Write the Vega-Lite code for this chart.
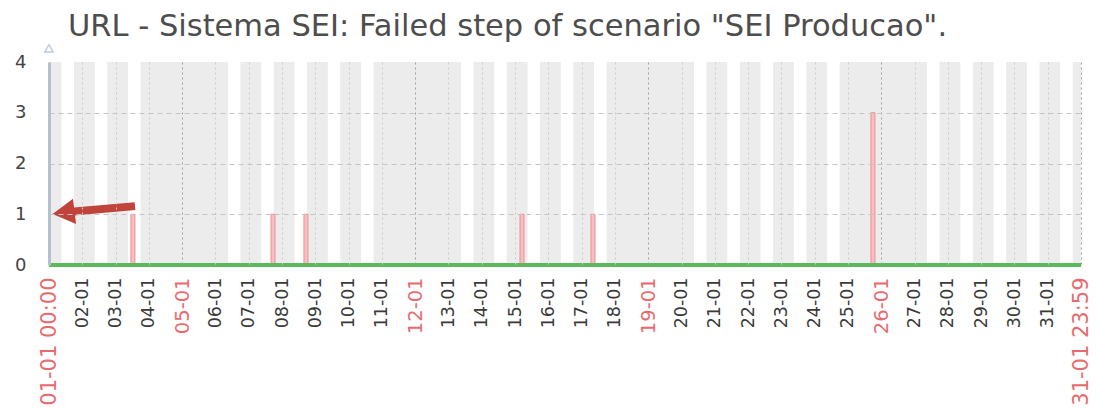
{
  "$schema": "https://vega.github.io/schema/vega-lite/v6.json",
  "width": 1032,
  "height": 203,
  "autosize": {"type": "none"},
  "padding": {"left": 49, "top": 62, "right": 16, "bottom": 145},
  "background": "white",
  "config": {"view": {"stroke": null}, "font": "DejaVu Sans"},
  "title": {
    "text": "URL - Sistema SEI: Failed step of scenario \"SEI Producao\".",
    "anchor": "start",
    "frame": "group",
    "dx": 19,
    "offset": -1,
    "fontSize": 30.5,
    "fontWeight": "normal",
    "color": "#4d4d4d",
    "font": "DejaVu Sans"
  },
  "datasets": {
    "bands": [
      {"start": "2014-01-01T00:00", "end": "2014-01-01T09:00"},
      {"start": "2014-01-01T18:00", "end": "2014-01-02T09:00"},
      {"start": "2014-01-02T18:00", "end": "2014-01-03T09:00"},
      {"start": "2014-01-03T18:00", "end": "2014-01-06T09:00"},
      {"start": "2014-01-06T18:00", "end": "2014-01-07T09:00"},
      {"start": "2014-01-07T18:00", "end": "2014-01-08T09:00"},
      {"start": "2014-01-08T18:00", "end": "2014-01-09T09:00"},
      {"start": "2014-01-09T18:00", "end": "2014-01-10T09:00"},
      {"start": "2014-01-10T18:00", "end": "2014-01-13T09:00"},
      {"start": "2014-01-13T18:00", "end": "2014-01-14T09:00"},
      {"start": "2014-01-14T18:00", "end": "2014-01-15T09:00"},
      {"start": "2014-01-15T18:00", "end": "2014-01-16T09:00"},
      {"start": "2014-01-16T18:00", "end": "2014-01-17T09:00"},
      {"start": "2014-01-17T18:00", "end": "2014-01-20T09:00"},
      {"start": "2014-01-20T18:00", "end": "2014-01-21T09:00"},
      {"start": "2014-01-21T18:00", "end": "2014-01-22T09:00"},
      {"start": "2014-01-22T18:00", "end": "2014-01-23T09:00"},
      {"start": "2014-01-23T18:00", "end": "2014-01-24T09:00"},
      {"start": "2014-01-24T18:00", "end": "2014-01-27T09:00"},
      {"start": "2014-01-27T18:00", "end": "2014-01-28T09:00"},
      {"start": "2014-01-28T18:00", "end": "2014-01-29T09:00"},
      {"start": "2014-01-29T18:00", "end": "2014-01-30T09:00"},
      {"start": "2014-01-30T18:00", "end": "2014-01-31T09:00"},
      {"start": "2014-01-31T18:00", "end": "2014-01-31T23:59"}
    ],
    "spikes": [
      {"t": "2014-01-03T12:30", "v": 1},
      {"t": "2014-01-07T17:30", "v": 1},
      {"t": "2014-01-08T17:15", "v": 1},
      {"t": "2014-01-15T05:00", "v": 1},
      {"t": "2014-01-17T08:10", "v": 1},
      {"t": "2014-01-25T18:00", "v": 3}
    ],
    "baseline": [
      {"t": "2014-01-01T00:00", "v": 0},
      {"t": "2014-01-31T23:59", "v": 0}
    ],
    "arrow": [
      {"x1": "2014-01-03T14:00", "y1": 1.16, "x2": "2014-01-01T12:00", "y2": 1.04}
    ],
    "head": [
      {"t": "2014-01-01T10:30", "v": 1.03}
    ],
    "yarrow": [
      {"t": "2014-01-01T00:00", "v": 4.27}
    ]
  },
  "layer": [
    {
      "data": {"name": "bands"},
      "mark": {"type": "rect", "color": "#ececec"},
      "encoding": {
        "x": {
          "field": "start",
          "type": "temporal",
          "scale": {"domain": [{"year": 2014, "month": 1, "date": 1}, {"year": 2014, "month": 1, "date": 31, "hours": 23, "minutes": 59}], "padding": 0},
          "axis": {
            "values": [
              {"year": 2014, "month": 1, "date": 1}, {"year": 2014, "month": 1, "date": 2}, {"year": 2014, "month": 1, "date": 3},
              {"year": 2014, "month": 1, "date": 4}, {"year": 2014, "month": 1, "date": 5}, {"year": 2014, "month": 1, "date": 6},
              {"year": 2014, "month": 1, "date": 7}, {"year": 2014, "month": 1, "date": 8}, {"year": 2014, "month": 1, "date": 9},
              {"year": 2014, "month": 1, "date": 10}, {"year": 2014, "month": 1, "date": 11}, {"year": 2014, "month": 1, "date": 12},
              {"year": 2014, "month": 1, "date": 13}, {"year": 2014, "month": 1, "date": 14}, {"year": 2014, "month": 1, "date": 15},
              {"year": 2014, "month": 1, "date": 16}, {"year": 2014, "month": 1, "date": 17}, {"year": 2014, "month": 1, "date": 18},
              {"year": 2014, "month": 1, "date": 19}, {"year": 2014, "month": 1, "date": 20}, {"year": 2014, "month": 1, "date": 21},
              {"year": 2014, "month": 1, "date": 22}, {"year": 2014, "month": 1, "date": 23}, {"year": 2014, "month": 1, "date": 24},
              {"year": 2014, "month": 1, "date": 25}, {"year": 2014, "month": 1, "date": 26}, {"year": 2014, "month": 1, "date": 27},
              {"year": 2014, "month": 1, "date": 28}, {"year": 2014, "month": 1, "date": 29}, {"year": 2014, "month": 1, "date": 30},
              {"year": 2014, "month": 1, "date": 31}, {"year": 2014, "month": 1, "date": 31, "hours": 23, "minutes": 59}
            ],
            "tickCount": 60,
            "labelExpr": "date(datum.value) == 1 && hours(datum.value) == 0 ? '01-01 00:00' : (hours(datum.value) == 23 ? '31-01 23:59' : timeFormat(datum.value, '%d-%m'))",
            "labelAngle": 270,
            "labelFont": "DejaVu Sans",
            "labelFontSize": {
              "condition": [
                {"test": "hours(datum.value) == 23 || (date(datum.value) == 1 && hours(datum.value) == 0)", "value": 21},
                {"test": "indexof([5, 12, 19, 26], date(datum.value)) >= 0", "value": 19.5}
              ],
              "value": 17.5
            },
            "labelColor": {"condition": {"test": "hours(datum.value) == 23 || indexof([1, 5, 12, 19, 26], date(datum.value)) >= 0", "value": "#e86a6e"}, "value": "#3a3a3a"},
            "labelPadding": 12,
            "labelOverlap": false,
            "labelFlush": false,
            "labelBound": false,
            "ticks": false,
            "domain": false,
            "grid": true,
            "gridDash": [2, 3],
            "gridColor": {"condition": {"test": "hours(datum.value) == 23 || indexof([1, 5, 12, 19, 26], date(datum.value)) >= 0", "value": "#a0a0a0"}, "value": "#cccccc"},
            "title": null,
            "zindex": 1
          }
        },
        "x2": {"field": "end"}
      }
    },
    {
      "data": {"name": "spikes"},
      "mark": {"type": "bar", "width": 4, "fill": "#f7bfc3", "stroke": "#ec8f8f", "strokeWidth": 1},
      "encoding": {
        "x": {"field": "t", "type": "temporal"},
        "y": {
          "field": "v",
          "type": "quantitative",
          "scale": {"domain": [0, 4], "nice": false},
          "axis": {
            "values": [0, 1, 2, 3, 4],
            "format": "d",
            "labelFont": "DejaVu Sans",
            "labelFontSize": 18,
            "labelColor": "#444444",
            "labelPadding": 23,
            "ticks": false,
            "domainColor": "#b4c0d0",
            "domainWidth": 3,
            "grid": true,
            "gridDash": [5, 4],
            "gridColor": "#c4c4c4",
            "gridOpacity": {"condition": {"test": "datum.value == 0 || datum.value == 4", "value": 0}, "value": 1},
            "title": null,
            "zindex": 1
          }
        }
      }
    },
    {
      "data": {"name": "baseline"},
      "mark": {"type": "line", "color": "#5cb85c", "strokeWidth": 4},
      "encoding": {
        "x": {"field": "t", "type": "temporal"},
        "y": {"field": "v", "type": "quantitative"}
      }
    },
    {
      "data": {"name": "yarrow"},
      "mark": {"type": "point", "shape": "triangle-up", "filled": false, "stroke": "#a8b8cc", "strokeWidth": 1.5, "size": 70},
      "encoding": {
        "x": {"field": "t", "type": "temporal"},
        "y": {"field": "v", "type": "quantitative"}
      }
    },
    {
      "data": {"name": "arrow"},
      "mark": {"type": "rule", "color": "#c0433c", "strokeWidth": 8},
      "encoding": {
        "x": {"field": "x1", "type": "temporal"},
        "x2": {"field": "x2"},
        "y": {"field": "y1", "type": "quantitative"},
        "y2": {"field": "y2"}
      }
    },
    {
      "data": {"name": "head"},
      "mark": {"type": "point", "shape": "triangle-left", "filled": true, "color": "#c0433c", "opacity": 1, "size": 650, "angle": 353},
      "encoding": {
        "x": {"field": "t", "type": "temporal"},
        "y": {"field": "v", "type": "quantitative"}
      }
    }
  ]
}
